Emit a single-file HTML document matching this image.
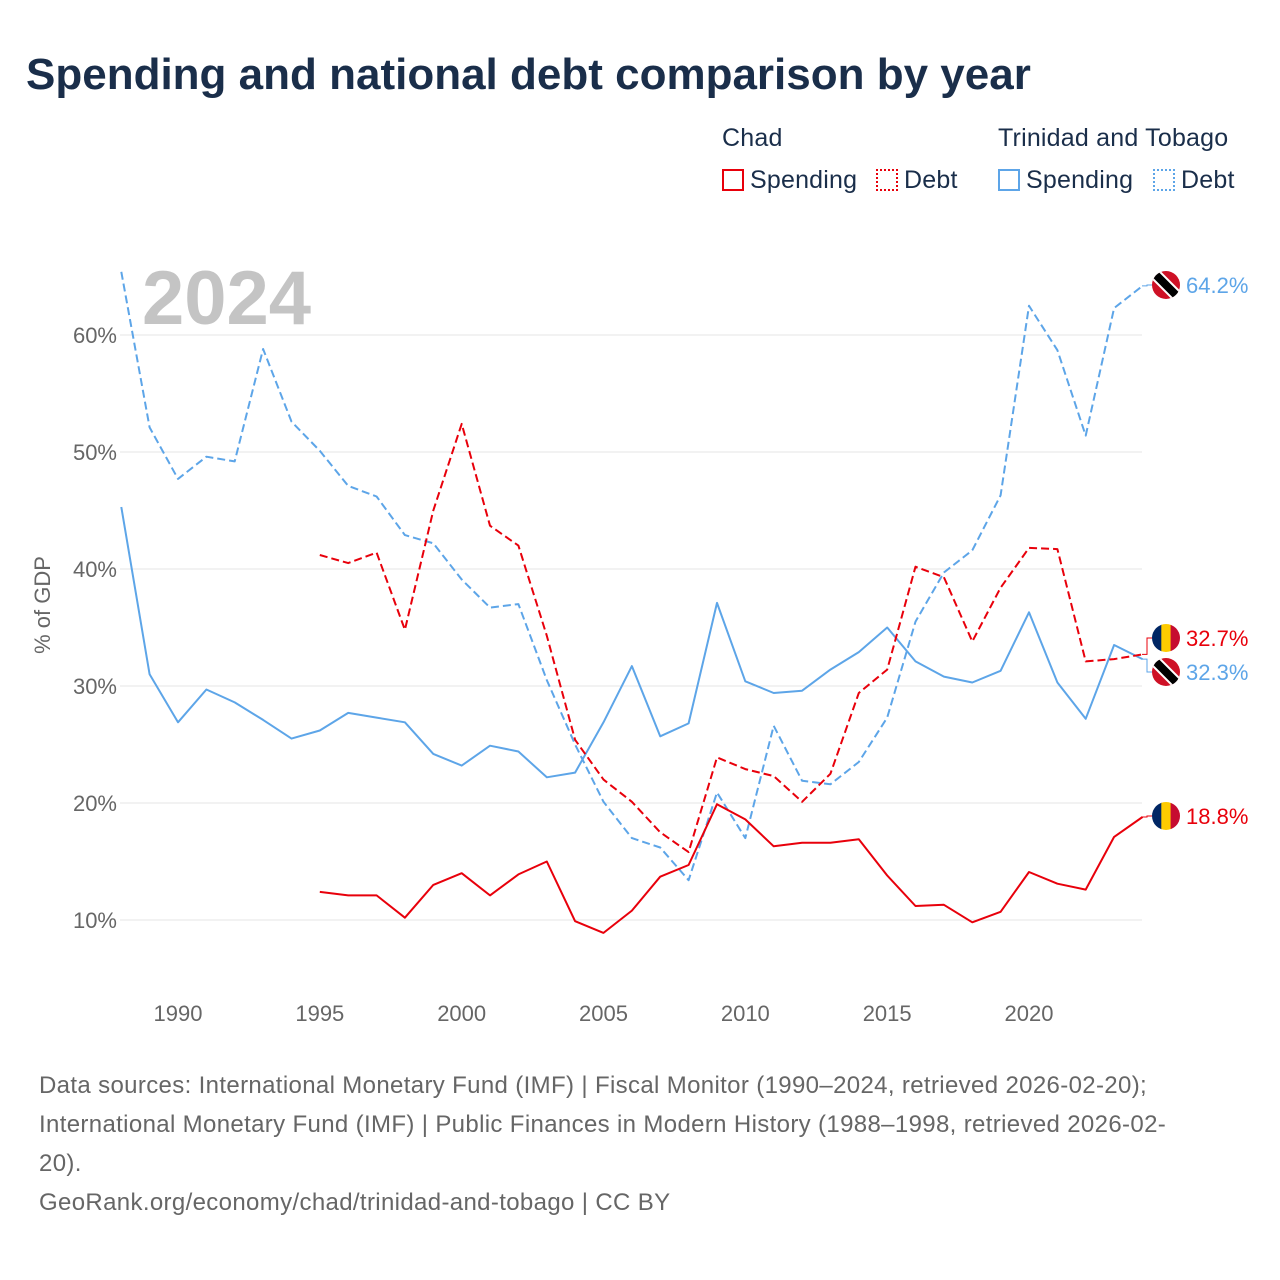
<!DOCTYPE html>
<html><head><meta charset="utf-8">
<style>
body{margin:0;background:#fff;font-family:"Liberation Sans",sans-serif;}
#wrap{position:relative;width:1280px;height:1280px;overflow:hidden;}
h1{position:absolute;left:26px;top:50px;margin:0;font-size:44px;font-weight:bold;color:#1a2e4a;letter-spacing:0px;}
.lg{position:absolute;font-size:25px;color:#1a2e4a;letter-spacing:0.2px;}
.sw{display:inline-block;width:22px;height:22px;vertical-align:-3px;margin-right:6px;box-sizing:border-box;}
.src{position:absolute;left:39px;top:1066px;font-size:24px;line-height:39px;color:#666;width:1230px;letter-spacing:0.35px;white-space:nowrap;}
</style></head><body>
<div id="wrap">
<h1>Spending and national debt comparison by year</h1>
<div class="lg" style="left:722px;top:124px">Chad</div>
<div class="lg" style="left:998px;top:124px">Trinidad and Tobago</div>
<div class="lg" style="left:722px;top:166px"><span class="sw" style="border:2px solid #e8000b"></span>Spending</div>
<div class="lg" style="left:876px;top:166px"><span class="sw" style="border:2px dotted #e8000b"></span>Debt</div>
<div class="lg" style="left:998px;top:166px"><span class="sw" style="border:2px solid #5da5e8"></span>Spending</div>
<div class="lg" style="left:1153px;top:166px"><span class="sw" style="border:2px dotted #5da5e8"></span>Debt</div>
<svg id="chart" width="1280" height="1280" style="position:absolute;left:0;top:0"></svg>
<div class="src">Data sources: International Monetary Fund (IMF) | Fiscal Monitor (1990–2024, retrieved 2026-02-20);<br>International Monetary Fund (IMF) | Public Finances in Modern History (1988–1998, retrieved 2026-02-<br>20).<br>GeoRank.org/economy/chad/trinidad-and-tobago | CC BY</div>
</div>
<script>
const ttYears=[1988,1989,1990,1991,1992,1993,1994,1995,1996,1997,1998,1999,2000,2001,2002,2003,2004,2005,2006,2007,2008,2009,2010,2011,2012,2013,2014,2015,2016,2017,2018,2019,2020,2021,2022,2023,2024];
const ttDebt=[65.4,52.1,47.7,49.6,49.2,58.8,52.6,50.1,47.1,46.2,42.9,42.2,39.1,36.7,37.0,30.5,25.0,20.1,17.0,16.2,13.4,20.9,17.0,26.6,21.9,21.6,23.5,27.3,35.5,39.7,41.6,46.3,62.5,58.7,51.4,62.3,64.2];
const ttSpending=[45.3,31.0,26.9,29.7,28.6,27.1,25.5,26.2,27.7,27.3,26.9,24.2,23.2,24.9,24.4,22.2,22.6,26.9,31.7,25.7,26.8,37.1,30.4,29.4,29.6,31.4,32.9,35.0,32.1,30.8,30.3,31.3,36.3,30.3,27.2,33.5,32.3];
const chadYears=[1995,1996,1997,1998,1999,2000,2001,2002,2003,2004,2005,2006,2007,2008,2009,2010,2011,2012,2013,2014,2015,2016,2017,2018,2019,2020,2021,2022,2023,2024];
const chadDebt=[41.2,40.5,41.4,34.8,45.0,52.4,43.7,42.0,34.3,25.4,22.0,20.1,17.5,15.8,23.9,22.9,22.3,20.1,22.5,29.4,31.4,40.2,39.3,33.8,38.4,41.8,41.7,32.1,32.3,32.7];
const chadSpending=[12.4,12.1,12.1,10.2,13.0,14.0,12.1,13.9,15.0,9.9,8.9,10.8,13.7,14.7,19.9,18.6,16.3,16.6,16.6,16.9,13.8,11.2,11.3,9.8,10.7,14.1,13.1,12.6,17.1,18.8];
const yTicks=[10,20,30,40,50,60];
const xTicks=[1990,1995,2000,2005,2010,2015,2020];
const X=y=>178+(y-1990)*851/30;
const Y=v=>335+(60-v)*11.7;
const svg=document.getElementById('chart');
const NS='http://www.w3.org/2000/svg';
function el(t,a,txt){const e=document.createElementNS(NS,t);for(const k in a)e.setAttribute(k,a[k]);if(txt!==undefined)e.textContent=txt;svg.appendChild(e);return e;}
yTicks.forEach(v=>{
 const g=el('line',{x1:120,x2:1142,y1:Y(v),y2:Y(v),stroke:'#e6e6e6','stroke-width':1});
 
 
 const t=el('text',{x:117,y:Y(v)+8,'text-anchor':'end','font-size':22,fill:'#666','font-family':'Liberation Sans'},v+'%');
 
 
});
xTicks.forEach(v=>{
 const t=el('text',{x:X(v),y:1021,'text-anchor':'middle','font-size':22,fill:'#666','font-family':'Liberation Sans'},v);
 
 
});
const yt=el('text',{x:0,y:0,transform:'translate(50,605) rotate(-90)','text-anchor':'middle','font-size':22,fill:'#666','font-family':'Liberation Sans'},'% of GDP');


const yr=el('text',{x:142,y:324,'font-size':76,'font-weight':'bold',fill:'#c4c4c4','font-family':'Liberation Sans'},'2024');


function line(xs,vs,color,dash,name){
 const d=xs.map((y,i)=>(i?'L':'M')+X(y).toFixed(1)+' '+Y(vs[i]).toFixed(1)).join(' ');
 const p=el('path',{d:d,fill:'none',stroke:color,'stroke-width':2,'stroke-dasharray':dash||'none','stroke-linejoin':'round'});
 
 
}
line(ttYears,ttDebt,'#5da5e8','8 4','line-tt-debt');
line(ttYears,ttSpending,'#5da5e8','','line-tt-spending');
line(chadYears,chadDebt,'#e8000b','8 4','line-chad-debt');
line(chadYears,chadSpending,'#e8000b','','line-chad-spending');
function flag(cy,type,name){
 const cx=1166,r=14;
 const g=document.createElementNS(NS,'g');svg.appendChild(g);
 
 
 const id='c'+Math.round(cy);
 g.innerHTML=`<defs><clipPath id="${id}"><circle cx="${cx}" cy="${cy}" r="${r}"/></clipPath></defs>`+
 (type==='chad'?`<g clip-path="url(#${id})"><rect x="${cx-r}" y="${cy-r}" width="10" height="28" fill="#002664"/><rect x="${cx-r+9.3}" y="${cy-r}" width="10" height="28" fill="#fecb00"/><rect x="${cx-r+18.6}" y="${cy-r}" width="10" height="28" fill="#c60c30"/></g>`
 :`<g clip-path="url(#${id})"><rect x="${cx-r}" y="${cy-r}" width="28" height="28" fill="#ce1126"/><line x1="${cx-r}" y1="${cy-r}" x2="${cx+r}" y2="${cy+r}" stroke="#fff" stroke-width="12"/><line x1="${cx-r}" y1="${cy-r}" x2="${cx+r}" y2="${cy+r}" stroke="#000" stroke-width="8"/></g>`);
}
const ends=[[ttDebt,285,'tt','#5da5e8','end-label-tt-debt'],[chadDebt,638,'chad','#e8000b','end-label-chad-debt'],[ttSpending,672,'tt','#5da5e8','end-label-tt-spending'],[chadSpending,816,'chad','#e8000b','end-label-chad-spending']];
ends.forEach(([arr,ly,type,color,name])=>{
 const v=arr[arr.length-1];
 const c=el('path',{d:`M1142 ${Y(v)} H1147 V${ly} H1152`,fill:'none',stroke:color,'stroke-width':1});
 
 
 flag(ly,type,name+'-flag');
 const t=el('text',{x:1186,y:ly+8,'font-size':22,fill:color,'font-family':'Liberation Sans'},v.toFixed(1)+'%');
 
 
});
</script>
</body></html>
